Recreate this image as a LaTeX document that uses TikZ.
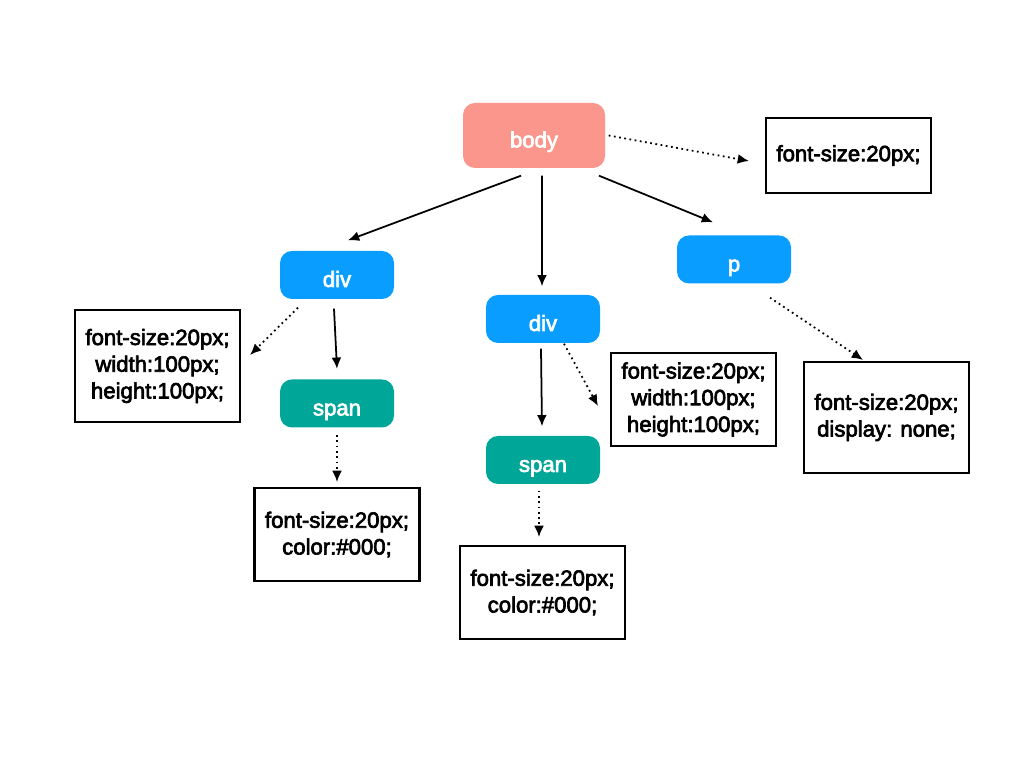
\documentclass[tikz,border=0pt]{standalone}
\usepackage{fontspec}
\setmainfont{Liberation Sans}[FakeBold=3]
\usetikzlibrary{arrows.meta}
\definecolor{bodypink}{RGB}{250,150,140}
\definecolor{tagblue}{RGB}{8,157,255}
\definecolor{tagteal}{RGB}{0,166,152}
\begin{document}
\begin{tikzpicture}[font=\fontsize{6.3}{7.6}\selectfont,
	tag/.style={rounded corners=0.12cm,text=white,inner sep=0pt,text height=0.68em,text depth=0pt,minimum width=1.14cm,minimum height=0.48cm},
	propbox/.style={draw,line width=0.6pt,align=center,inner sep=0pt,minimum width=1.65cm},
	link/.style={line width=0.5pt,-{Latex[length=3.2pt,width=2.8pt]}},
	dotlink/.style={link,densely dotted}]
	\useasboundingbox (0,0) rectangle (10.24,7.68);
	% tree nodes
	\node[tag,fill=bodypink,minimum width=1.42cm,minimum height=0.65cm] (body) at (5.34,6.325) {body};
	\node[tag,fill=tagblue] (div1) at (3.37,4.93) {div};
	\node[tag,fill=tagblue] (div2) at (5.43,4.49) {div};
	\node[tag,fill=tagblue] (p) at (7.34,5.085) {p};
	\node[tag,fill=tagteal] (span1) at (3.37,3.645) {span};
	\node[tag,fill=tagteal] (span2) at (5.43,3.08) {span};
	% style boxes
	\node[propbox,minimum height=0.75cm] (bodycss) at (8.485,6.125) {font-size:20px;};
	\node[propbox,minimum height=1.12cm] (div1css) at (1.575,4.02) {font-size:20px;\\width:100px;\\height:100px;};
	\node[propbox,minimum height=0.93cm] (div2css) at (6.935,3.685) {font-size:20px;\\width:100px;\\height:100px;};
	\node[propbox,minimum height=1.11cm] (pcss) at (8.865,3.505) {font-size:20px;\\display: none;};
	\node[propbox,minimum height=0.93cm] (span1css) at (3.37,2.335) {font-size:20px;\\color:\#000;};
	\node[propbox,minimum height=0.93cm] (span2css) at (5.425,1.755) {font-size:20px;\\color:\#000;};
	% arrows
	\draw[link] ([xshift=-0.13cm,yshift=-0.07cm]body.south) -- ([xshift=0.11cm,yshift=0.10cm]div1.north);
	\draw[link] ([xshift=0.08cm,yshift=-0.07cm]body.south) -- ([xshift=-0.01cm,yshift=0.08cm]div2.north);
	\draw[link] ([xshift=0.65cm,yshift=-0.07cm]body.south) -- ([xshift=-0.21cm,yshift=0.125cm]p.north);
	\draw[dotlink] ([xshift=0.03cm]body.east) -- ([xshift=-0.16cm,yshift=-0.055cm]bodycss.west);
	\draw[dotlink] ([xshift=-0.39cm,yshift=-0.08cm]div1.south) -- ([xshift=0.09cm,yshift=0.11cm]div1css.east);
	\draw[link] ([xshift=-0.03cm,yshift=-0.09cm]div1.south) -- ([yshift=0.10cm]span1.north);
	\draw[link] ([xshift=-0.02cm,yshift=-0.05cm]div2.south) -- ([xshift=-0.01cm,yshift=0.09cm]span2.north);
	\draw[dotlink] ([xshift=0.21cm]div2.south) -- ([xshift=-0.12cm,yshift=-0.065cm]div2css.west);
	\draw[dotlink] ([xshift=0.36cm,yshift=-0.135cm]p.south) -- ([xshift=-0.235cm,yshift=0.01cm]pcss.north);
	\draw[dotlink] ([yshift=-0.07cm]span1.south) -- ([yshift=0.05cm]span1css.north);
	\draw[dotlink] ([xshift=-0.04cm,yshift=-0.06cm]span2.south) -- ([xshift=-0.035cm,yshift=0.08cm]span2css.north);
\end{tikzpicture}
\end{document}
